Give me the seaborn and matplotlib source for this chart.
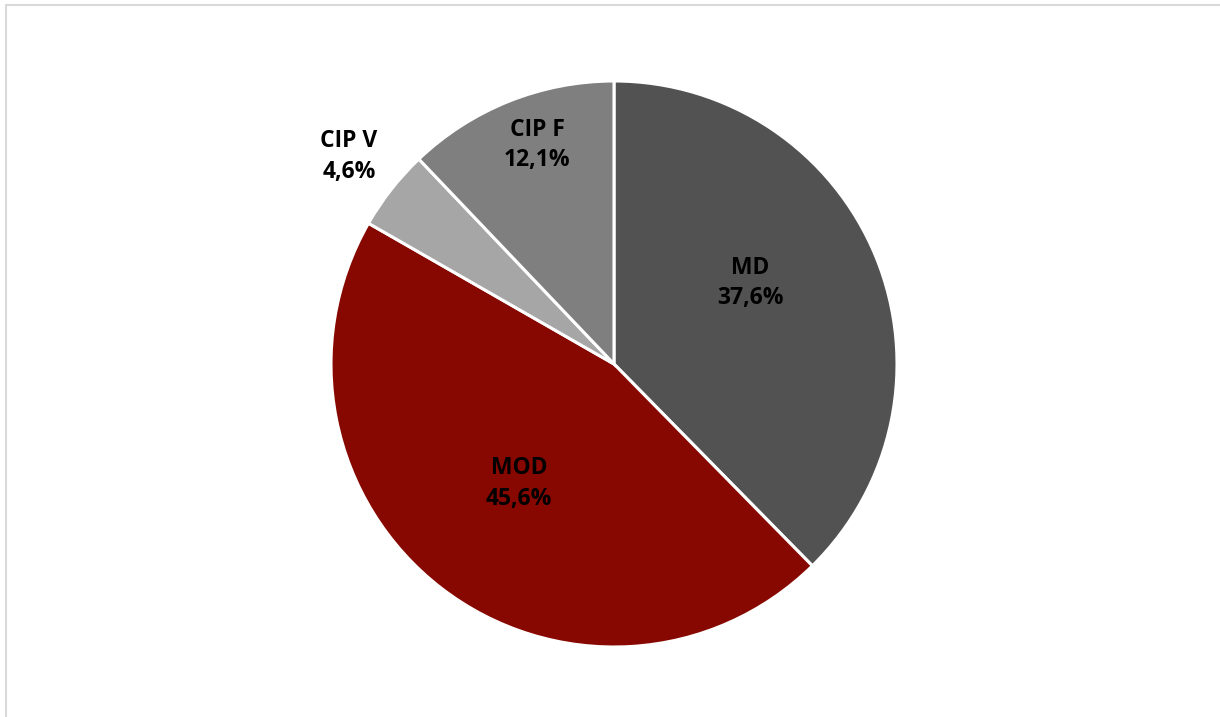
import numpy as np
import matplotlib
matplotlib.use("Agg")
import matplotlib.pyplot as plt
import seaborn as sns
from matplotlib.patches import Rectangle

sns.set_theme(style="white")
plt.rcParams['font.family'] = ['Open Sans', 'DejaVu Sans']

categories = ["MD", "MOD", "CIP V", "CIP F"]
values = [37.6, 45.6, 4.6, 12.1]
colors = ["#525252", "#870800", "#A6A6A6", "#7F7F7F"]
label_radius = [0.56, 0.54, 1.19, 0.82]
label_angle_nudge = [8.5, -0.7, 0.0, -2.5]

W, H = 1220, 717
fig = plt.figure(figsize=(W / 100, H / 100), dpi=100)
fig.patch.set_facecolor("white")

cx, cy, r = 614, 364, 283
ax = fig.add_axes([(cx - r) / W, (H - cy - r) / H, 2 * r / W, 2 * r / H])
wedges, _ = ax.pie(values, colors=colors, startangle=90, counterclock=False,
                   radius=1.0, wedgeprops=dict(edgecolor="white", linewidth=2.2))
ax.set_xlim(-1, 1)
ax.set_ylim(-1, 1)
ax.set_aspect("equal")
ax.axis("off")

for w, cat, v, lr, nd in zip(wedges, categories, values, label_radius, label_angle_nudge):
    ang = np.deg2rad((w.theta1 + w.theta2) / 2 + nd)
    x, y = lr * np.cos(ang), lr * np.sin(ang)
    txt = f"{cat}\n{v:.1f}%".replace(".", ",")
    ax.text(x, y, txt, ha="center", va="center", fontsize=16.5, fontweight="bold",
            color="black", linespacing=1.38)

fig.patches.append(Rectangle((6 / W, -0.05), 1.2, (H - 5) / H + 0.05, transform=fig.transFigure,
                             fill=False, edgecolor="#D9D9D9", linewidth=1.5))

fig.savefig("out.png", dpi=100, facecolor="white")
